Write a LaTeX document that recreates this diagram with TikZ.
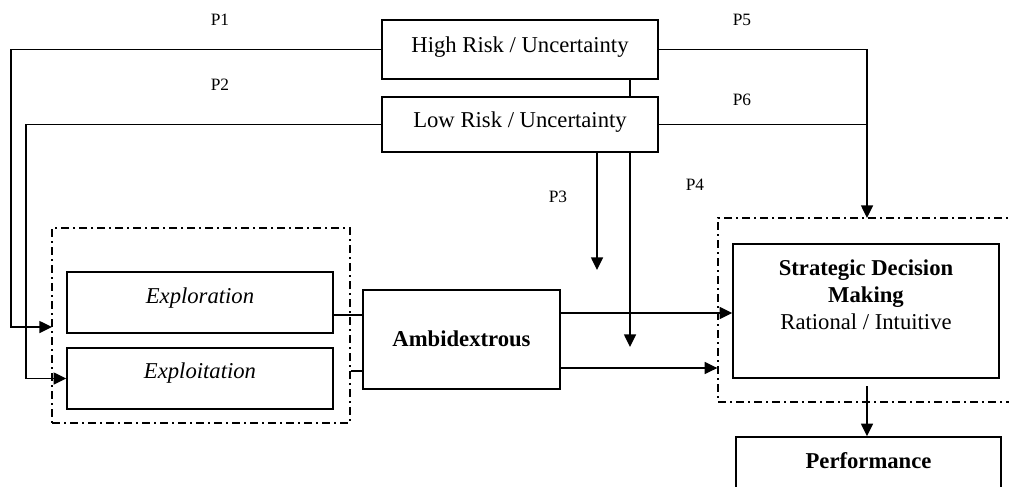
\documentclass[tikz,border=0pt]{standalone}
\usepackage{fontspec}
\setmainfont{Liberation Serif}
\usetikzlibrary{arrows.meta}
\begin{document}
\begin{tikzpicture}[x=0.75pt,y=-0.75pt,
  box/.style={draw, line width=1.1pt, inner sep=0pt, font=\fontsize{17}{20.25}\selectfont},
  grp/.style={draw, line width=1pt, dash pattern=on 6pt off 3pt on 1.5pt off 3pt, inner sep=0pt},
  txt/.style={inner sep=0pt, font=\fontsize{17}{20.25}\selectfont},
  conn/.style={line width=1.1pt},
  arr/.style={conn, -{Triangle[length=9.5pt,width=9pt]}},
  plab/.style={font=\fontsize{13}{15}\selectfont, inner sep=0pt}]
\useasboundingbox (0,0) rectangle (1009,486);
\clip (0,0) rectangle (1009,486);

% groups
\node[grp, minimum width=223.5pt, minimum height=146.25pt] (expgroup) at (201,325.5) {};
\node[grp, minimum width=226.5pt, minimum height=138pt] (sdmgroup) at (869,310) {};

% boxes
\node[box, minimum width=207pt, minimum height=44.25pt, text height=24pt, text depth=20.25pt] (hr) at (520,49.5) {High Risk / Uncertainty};
\node[box, minimum width=207pt, minimum height=41.25pt, text height=22.5pt, text depth=18.75pt] (lr) at (520,124.5) {Low Risk / Uncertainty};
\node[box, minimum width=199.5pt, minimum height=45.75pt, text height=23.25pt, text depth=22.5pt] (explore) at (200,302.5) {\textit{Exploration}};
\node[box, minimum width=199.5pt, minimum height=45.75pt, text height=22.5pt, text depth=23.25pt] (exploit) at (200,378.5) {\textit{Exploitation}};
\node[box, minimum width=147.75pt, minimum height=74.25pt, text height=42.5pt, text depth=31.75pt] (amb) at (461.5,339.5) {\textbf{Ambidextrous}};
\node[box, minimum width=199.5pt, minimum height=100.5pt] (sdm) at (866,311) {};
\node[txt, anchor=north, align=center] (sdmtxt) at (866,259) {\textbf{Strategic Decision}\\\textbf{Making}\\Rational / Intuitive};
\node[box, minimum width=198.75pt, minimum height=62.25pt, text height=23.25pt, text depth=39pt] (perf) at (868.5,478.5) {\textbf{Performance}};

% labels
\node[plab] (p1) at (220,20) {P1};
\node[plab] (p2) at (220,85) {P2};
\node[plab] (p3) at (558,197) {P3};
\node[plab] (p4) at (695,185) {P4};
\node[plab] (p5) at (742,20) {P5};
\node[plab] (p6) at (742,100) {P6};

% coordinates
\coordinate (in1) at (52,327);
\coordinate (sdmtop) at (867,218);
\coordinate (p3end) at (597,270);
\coordinate (p4end) at (630,347);
\coordinate (sdmout) at (867,386);

% connectors
\draw[arr] (hr.west) -- (11,49.5) |- (in1);
\draw[arr] (lr.west) -- (26,124.5) |- (exploit.west);
\draw[arr] (hr.east) -| (sdmtop);
\draw[conn] (lr.east) -- (lr.east -| sdmtop);
\draw[conn] (hr.south -| p4end) -- (lr.north -| p4end);
\draw[arr] (lr.south -| p4end) -- (p4end);
\draw[arr] (lr.south -| p3end) -- (p3end);
\draw[conn] (explore.east |- 0,315) -- (amb.west |- 0,315);
\draw[conn] (expgroup.east |- 0,371) -- (amb.west |- 0,371);
\draw[arr] (amb.east |- 0,313) -- (sdm.west |- 0,313);
\draw[arr] (amb.east |- 0,368) -- (sdmgroup.west |- 0,368);
\draw[arr] (sdmout) -- (sdmout |- perf.north);
\end{tikzpicture}
\end{document}
